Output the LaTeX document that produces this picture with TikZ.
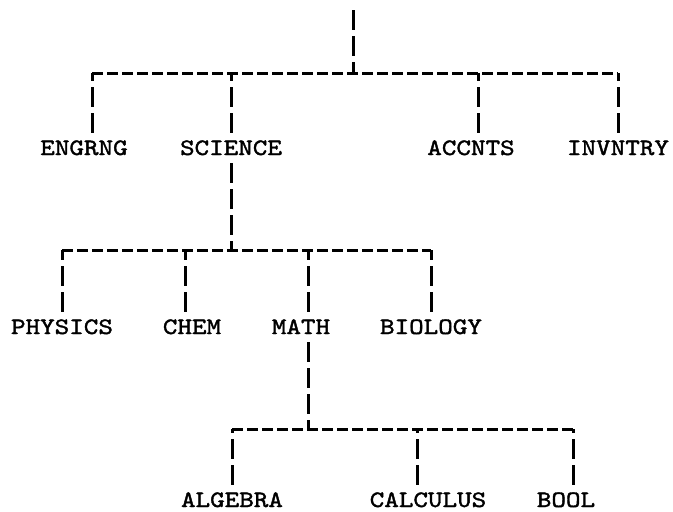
\documentclass[tikz,border=0pt]{standalone}
\usepackage{fontspec}
\newfontfamily\typewr[FakeStretch=1.18,FakeBold=1.6]{lmmono10-regular.otf}

\begin{document}
\begin{tikzpicture}[x=1pt, y=-1pt,
    leaf/.style={font=\typewr\fontsize{23.5pt}{26pt}\selectfont, inner xsep=0pt, inner ysep=8pt,
                 text height=14pt, text depth=0pt},
    hbar/.style={line width=3pt, dash pattern=on 11pt off 4pt},
    vbar/.style={line width=3pt, dash pattern=on 20pt off 6pt}]
  \useasboundingbox (0,0) rectangle (673,512);
%
    \node[coordinate] (top) at (353,10) {};
    \node[coordinate] (j1)  at (353,73) {};
    \node[coordinate] (j2)  at (231,250) {};
    \node[coordinate] (j3)  at (308,429) {};
%
    \node[leaf] (engrng)  at (84,148)  {ENGRNG};
    \node[leaf] (science) at (231,148) {SCIENCE};
    \node[leaf] (accnts)  at (471,148) {ACCNTS};
    \node[leaf] (invntry) at (618,148) {INVNTRY};
%
    \node[leaf] (physics) at (62,327)  {PHYSICS};
    \node[leaf] (chem)    at (192,327) {CHEM};
    \node[leaf] (math)    at (301,327) {MATH};
    \node[leaf] (biology) at (431,327) {BIOLOGY};
%
    \node[leaf] (algebra)  at (232,500) {ALGEBRA};
    \node[leaf] (calculus) at (428,500) {CALCULUS};
    \node[leaf] (bool)     at (566,500) {BOOL};
%
    \draw[vbar] (top) -- (j1);
    \draw[hbar] ([xshift=8pt]engrng.north |- j1) -- (invntry.north |- j1);
    \foreach \n/\s in {engrng/8,science/0,accnts/7,invntry/0}
      \draw[vbar] ([xshift=\s pt]\n.north) -- ([xshift=\s pt]\n.north |- j1);
%
    \draw[vbar] (science.south) -- (j2);
    \draw[hbar] (physics.north |- j2) -- (biology.north |- j2);
    \foreach \n/\s in {physics/0,chem/-7,math/7,biology/0}
      \draw[vbar] ([xshift=\s pt]\n.north) -- ([xshift=\s pt]\n.north |- j2);
%
    \draw[vbar] ([xshift=7pt]math.south) -- (j3);
    \draw[hbar] (algebra.north |- j3) -- ([xshift=7pt]bool.north |- j3);
    \foreach \n/\s in {algebra/0,calculus/-11,bool/7}
      \draw[vbar] ([xshift=\s pt]\n.north) -- ([xshift=\s pt]\n.north |- j3);
\end{tikzpicture}
\end{document}
